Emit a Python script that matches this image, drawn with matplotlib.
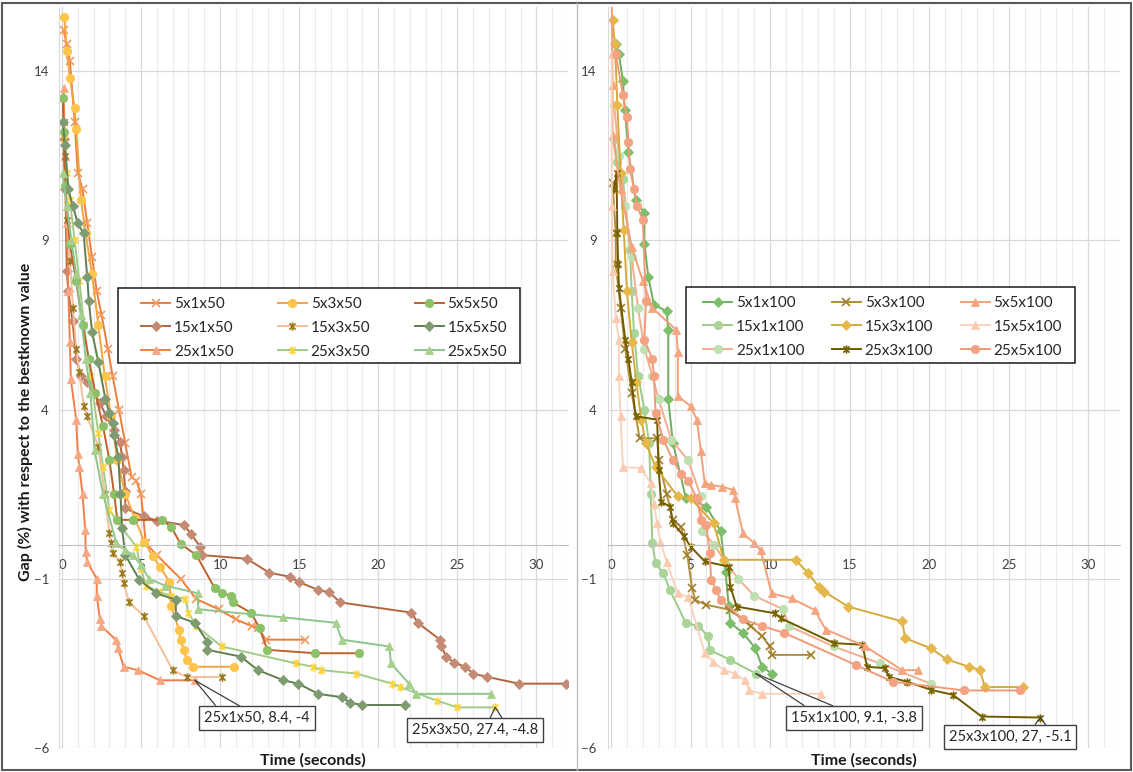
import matplotlib
matplotlib.use('Agg')
import matplotlib.pyplot as plt
from matplotlib.path import Path
from matplotlib.patches import Rectangle
from matplotlib.lines import Line2D
from matplotlib.ticker import MultipleLocator

plt.rcParams['font.family'] = ['Lato', 'DejaVu Sans']

# ---------------- data: left panel (50 jobs) ----------------
t_5x1x50 = [0.1, 0.3, 0.5, 0.8, 1.0, 1.3, 1.6, 1.9, 2.2, 2.5, 2.9, 3.2, 3.6, 4.0, 4.4, 4.7, 5.0, 5.3, 6.0, 7.5, 8.5, 9.9, 11.0, 12.0, 12.4, 12.9, 15.4]
g_5x1x50 = [15.2, 14.8, 14.3, 12.5, 11.0, 10.5, 9.5, 8.5, 7.5, 6.8, 5.8, 5.0, 4.0, 3.0, 2.0, 1.9, 1.5, 0.05, -0.3, -1.0, -1.6, -1.9, -2.2, -2.4, -2.45, -2.8, -2.8]

t_5x3x50 = [0.15, 0.3, 0.5, 0.8, 0.9, 1.2, 1.5, 1.9, 2.3, 2.7, 3.1, 3.5, 4.0, 4.6, 5.2, 5.74, 6.2, 6.8, 6.9, 7.4, 7.5, 7.7, 7.9, 8.3, 10.9]
g_5x3x50 = [15.6, 14.6, 13.8, 12.9, 12.3, 10.2, 9.2, 8.0, 6.5, 5.0, 3.8, 2.5, 1.5, 0.8, 0.1, -0.34, -0.64, -1.1, -1.8, -2.5, -2.8, -3.1, -3.4, -3.6, -3.6]

t_5x5x50 = [0.05, 0.1, 0.2, 0.5, 0.9, 1.3, 1.7, 2.1, 2.6, 3.0, 3.3, 3.5, 4.5, 6.3, 6.9, 7.5, 8.5, 9.66, 10.1, 10.7, 10.8, 11.95, 12.5, 12.98, 16.0, 18.8]
g_5x5x50 = [13.2, 12.2, 10.6, 8.9, 7.8, 6.5, 5.5, 4.5, 3.5, 2.5, 1.5, 0.74, 0.74, 0.74, 0.54, 0.03, -0.3, -1.28, -1.43, -1.5, -1.7, -2.0, -2.46, -3.1, -3.2, -3.2]

t_15x1x50 = [0.1, 0.22, 0.3, 0.4, 0.67, 0.9, 1.2, 1.6, 2.0, 2.4, 2.8, 3.3, 3.67, 3.8, 3.9, 4.0, 4.0, 5.17, 5.98, 7.7, 8.16, 8.73, 8.85, 11.7, 13.1, 14.4, 15.0, 16.2, 16.9, 17.6, 22.1, 22.5, 23.9, 24.0, 24.3, 24.8, 25.5, 26.0, 26.9, 28.9, 31.9]
g_15x1x50 = [12.0, 10.5, 8.1, 7.5, 6.6, 5.5, 5.0, 4.8, 4.5, 4.2, 3.8, 3.4, 3.05, 2.6, 2.2, 1.6, 1.08, 0.84, 0.72, 0.59, 0.33, -0.05, -0.3, -0.41, -0.82, -0.94, -1.1, -1.33, -1.4, -1.7, -2.0, -2.3, -2.8, -3.0, -3.3, -3.48, -3.6, -3.8, -3.9, -4.1, -4.1]

t_15x3x50 = [0.1, 0.2, 0.35, 0.5, 0.7, 0.9, 1.1, 1.37, 1.6, 2.3, 2.7, 3.0, 3.1, 3.2, 3.7, 3.8, 3.9, 4.25, 5.17, 7.0, 7.9, 10.1]
g_15x3x50 = [12.5, 11.5, 9.6, 8.4, 7.0, 5.8, 5.1, 4.1, 3.8, 2.9, 1.5, 0.34, 0.05, -0.25, -0.5, -0.84, -1.13, -1.7, -2.1, -3.7, -3.9, -3.9]

t_15x5x50 = [0.05, 0.2, 0.4, 0.7, 1.0, 1.37, 1.6, 1.7, 1.9, 2.3, 2.75, 3.0, 3.2, 3.3, 3.56, 3.7, 3.8, 4.0, 4.9, 5.97, 7.2, 7.2, 8.4, 9.2, 9.2, 11.3, 12.4, 14.0, 14.95, 16.2, 17.7, 18.2, 19.0, 21.7]
g_15x5x50 = [12.5, 11.8, 10.5, 10.0, 9.5, 9.2, 7.9, 7.2, 6.3, 5.4, 4.3, 3.9, 3.6, 3.25, 2.6, 1.5, 0.5, -0.3, -1.03, -1.43, -1.62, -2.1, -2.3, -2.86, -3.1, -3.3, -3.7, -4.0, -4.1, -4.4, -4.5, -4.66, -4.73, -4.73]

t_25x1x50 = [0.1, 0.2, 0.3, 0.4, 0.5, 0.56, 0.9, 1.0, 1.1, 1.3, 1.47, 1.5, 1.6, 2.2, 2.2, 2.4, 2.5, 3.4, 3.55, 3.9, 4.8, 6.2, 8.4]
g_25x1x50 = [13.5, 11.5, 9.5, 7.5, 6.0, 4.9, 3.7, 2.7, 2.3, 1.5, 0.44, -0.2, -0.5, -1.0, -1.5, -2.2, -2.4, -2.8, -3.05, -3.6, -3.7, -4.0, -4]

t_25x3x50 = [0.1, 0.3, 0.5, 0.8, 1.1, 1.4, 1.8, 2.3, 2.6, 3.0, 3.8, 4.7, 5.0, 5.3, 6.2, 6.9, 7.8, 8.0, 8.5, 10.1, 14.8, 15.9, 16.4, 18.6, 20.9, 21.4, 23.7, 25.0, 27.4]
g_25x3x50 = [12.0, 11.0, 10.2, 9.0, 7.8, 6.5, 5.0, 3.3, 2.3, 1.03, 0.5, -0.05, -0.7, -1.2, -1.4, -1.5, -1.6, -2.0, -2.4, -3.0, -3.5, -3.6, -3.7, -3.8, -4.1, -4.2, -4.6, -4.8, -4.8]

t_25x5x50 = [0.05, 0.3, 0.6, 0.9, 1.2, 1.5, 1.8, 2.06, 2.6, 3.44, 4.0, 4.5, 5.0, 5.5, 6.5, 8.6, 8.6, 14.0, 17.3, 17.7, 20.7, 20.8, 21.95, 22.4, 27.1]
g_25x5x50 = [11.0, 10.0, 9.0, 8.0, 6.8, 5.5, 4.5, 2.8, 1.5, 0.05, -0.15, -0.3, -0.6, -1.0, -1.2, -1.43, -1.9, -2.14, -2.3, -2.8, -3.0, -3.5, -4.1, -4.4, -4.4]

# ---------------- data: right panel (100 jobs) ----------------
t_5x1x100 = [0.3, 0.5, 0.75, 0.87, 1.1, 1.55, 2.1, 2.1, 2.35, 2.7, 3.5, 3.6, 3.6, 3.9, 4.7, 6.0, 6.9, 7.2, 7.4, 7.5, 8.3, 9.07, 9.5, 10.1]
g_5x1x100 = [14.8, 14.5, 13.7, 12.85, 11.6, 10.2, 9.8, 8.9, 7.9, 7.1, 6.9, 6.35, 4.3, 3.0, 1.4, 1.13, 0.4, -0.8, -1.8, -2.3, -2.6, -3.05, -3.6, -3.8]

t_15x1x100 = [0.2, 0.4, 0.75, 1.2, 1.3, 1.45, 1.7, 2.1, 2.4, 2.5, 2.6, 2.8, 3.3, 3.7, 4.7, 5.5, 6.1, 6.2, 7.5, 9.1]
g_15x1x100 = [12.0, 11.3, 10.8, 8.7, 7.5, 6.25, 5.0, 4.0, 3.0, 1.5, 0.05, -0.54, -0.84, -1.33, -2.3, -2.4, -2.7, -3.1, -3.4, -3.8]

t_25x1x100 = [0.2, 0.5, 0.9, 1.3, 1.7, 2.1, 2.6, 3.0, 3.8, 4.85, 5.65, 5.75, 6.5, 7.1, 8.0, 9.0, 10.8, 11.2, 14.0, 16.9, 20.1]
g_25x1x100 = [13.0, 11.5, 10.0, 8.5, 7.0, 5.8, 5.0, 4.3, 3.1, 2.5, 1.43, 0.4, 0.0, -0.44, -1.0, -1.5, -1.9, -2.4, -3.0, -3.5, -4.1]

t_5x3x100 = [0.1, 0.3, 0.3, 0.6, 0.9, 1.3, 1.8, 2.9, 3.0, 3.5, 3.9, 4.4, 4.8, 5.1, 5.3, 6.0, 7.5, 8.8, 9.5, 10.0, 10.1, 12.6]
g_5x3x100 = [10.7, 9.2, 8.3, 7.0, 5.8, 4.5, 3.15, 3.15, 2.5, 1.5, 0.74, 0.54, -0.3, -1.28, -1.63, -1.77, -1.92, -2.41, -2.7, -3.0, -3.25, -3.25]

t_15x3x100 = [0.1, 0.25, 0.4, 0.6, 0.8, 1.0, 1.3, 1.6, 1.9, 2.2, 2.8, 4.2, 5.0, 6.45, 7.1, 11.6, 12.4, 13.05, 13.4, 14.9, 18.3, 18.5, 20.1, 21.1, 22.5, 23.2, 23.5, 25.9]
g_15x3x100 = [15.5, 14.8, 13.0, 11.0, 9.3, 7.5, 6.0, 4.8, 3.7, 3.0, 2.3, 1.43, 1.38, 0.64, -0.44, -0.44, -0.84, -1.23, -1.38, -1.82, -2.26, -2.76, -3.05, -3.38, -3.6, -3.7, -4.2, -4.2]

t_25x3x100 = [0.2, 0.35, 0.4, 0.45, 0.5, 0.9, 1.1, 1.3, 1.55, 2.9, 3.0, 3.15, 3.7, 3.9, 4.6, 5.0, 5.9, 7.4, 7.5, 7.9, 10.3, 10.7, 14.0, 15.8, 16.1, 17.2, 17.5, 18.6, 20.1, 21.5, 23.3, 27]
g_25x3x100 = [10.5, 11.0, 9.2, 8.3, 7.6, 6.05, 5.5, 4.8, 3.8, 3.7, 2.2, 1.28, 1.13, 0.64, 0.25, -0.05, -0.49, -0.64, -1.23, -1.82, -2.02, -2.17, -2.9, -2.95, -3.6, -3.64, -3.9, -4.04, -4.28, -4.43, -5.07, -5.1]

t_5x5x100 = [0.05, 0.1, 0.1, 0.6, 1.3, 2.0, 2.6, 4.1, 4.2, 4.2, 5.0, 5.4, 5.65, 5.9, 6.3, 7.0, 7.7, 7.8, 8.3, 9.0, 9.4, 10.1, 11.35, 12.8, 13.5, 16.0, 18.3, 19.3]
g_5x5x100 = [16.3, 13.6, 12.1, 10.5, 8.8, 7.8, 7.0, 6.35, 5.7, 4.4, 4.1, 3.7, 2.76, 1.82, 1.77, 1.72, 1.62, 1.38, 0.34, 0.05, -0.15, -1.43, -1.58, -1.92, -2.5, -3.0, -3.7, -3.7]

t_15x5x100 = [0.05, 0.05, 0.1, 0.3, 0.5, 0.5, 0.6, 0.75, 1.9, 2.5, 2.7, 2.9, 3.1, 3.5, 4.2, 4.85, 5.9, 6.4, 7.1, 7.8, 8.4, 8.7, 9.5, 13.2]
g_15x5x100 = [14.5, 10.0, 8.1, 6.7, 6.05, 5.0, 3.8, 2.3, 2.27, 1.82, 1.2, 0.64, 0.1, -0.5, -1.43, -1.53, -3.2, -3.45, -3.7, -3.8, -4.0, -4.3, -4.4, -4.4]

t_25x5x100 = [0.3, 0.75, 1.0, 1.1, 1.2, 1.45, 1.65, 2.0, 2.2, 2.1, 2.6, 2.7, 2.8, 3.3, 3.9, 4.4, 4.85, 5.4, 5.65, 6.0, 6.2, 6.3, 6.6, 6.9, 8.3, 9.5, 10.9, 15.4, 17.7, 22.2, 25.7]
g_25x5x100 = [14.5, 13.3, 12.65, 11.9, 11.1, 10.5, 10.0, 9.6, 7.2, 6.05, 5.5, 5.0, 3.9, 3.1, 2.5, 2.1, 1.9, 1.38, 0.74, 0.6, -0.25, -1.03, -1.33, -1.62, -2.2, -2.4, -2.6, -3.55, -4.04, -4.3, -4.3]

y_ticks = [-6, -1, 4, 9, 14]
x_ticks = [0, 5, 10, 15, 20, 25, 30]
y_label = "Gap (%) with respect to the bestknown value"
x_label = "Time (seconds)"

# ---------------- styles ----------------
star_path = Path([(0, -1), (0, 1), (-0.75, -0.75), (0.75, 0.75), (-0.75, 0.75), (0.75, -0.75)],
                 [Path.MOVETO, Path.LINETO, Path.MOVETO, Path.LINETO, Path.MOVETO, Path.LINETO])

# (label, t, g, line colour, marker, marker colour)
left_series = [
    ("5x1x50", t_5x1x50, g_5x1x50, '#EE7D3A', 'x', '#F39A5E'),
    ("15x1x50", t_15x1x50, g_15x1x50, '#B0653F', 'D', '#C48A74'),
    ("25x1x50", t_25x1x50, g_25x1x50, '#F0804A', '^', '#F6A884'),
    ("5x3x50", t_5x3x50, g_5x3x50, '#F5A340', 'o', '#FFC54A'),
    ("15x3x50", t_15x3x50, g_15x3x50, '#F6BE98', star_path, '#9C7A1E'),
    ("25x3x50", t_25x3x50, g_25x3x50, '#A3CB88', star_path, '#FFD43B'),
    ("5x5x50", t_5x5x50, g_5x5x50, '#C0612B', 'o', '#8CC168'),
    ("15x5x50", t_15x5x50, g_15x5x50, '#5F7F50', 'D', '#7E9B72'),
    ("25x5x50", t_25x5x50, g_25x5x50, '#8CC68A', '^', '#A8D08D'),
]
right_series = [
    ("5x1x100", t_5x1x100, g_5x1x100, '#6FAE5E', 'D', '#7DBE6B'),
    ("15x1x100", t_15x1x100, g_15x1x100, '#9BCB88', 'o', '#A9D49A'),
    ("25x1x100", t_25x1x100, g_25x1x100, '#F2AE8E', 'o', '#BFE0B0'),
    ("5x3x100", t_5x3x100, g_5x3x100, '#B08F3A', 'x', '#A07F2A'),
    ("15x3x100", t_15x3x100, g_15x3x100, '#D4AA3A', 'D', '#E6B84A'),
    ("25x3x100", t_25x3x100, g_25x3x100, '#6E5B00', star_path, '#7A6500'),
    ("5x5x100", t_5x5x100, g_5x5x100, '#F2A07A', '^', '#F4A57F'),
    ("15x5x100", t_15x5x100, g_15x5x100, '#FAD3BE', '^', '#F9CBB0'),
    ("25x5x100", t_25x5x100, g_25x5x100, '#F09A78', 'o', '#F3A382'),
]

W, H = 1133, 772
fig = plt.figure(figsize=(W / 100, H / 100), dpi=100)


def px_axes(left, top, right, bottom):
    return fig.add_axes([left / W, 1 - bottom / H, (right - left) / W, (bottom - top) / H])


def style_axes(ax, ypad):
    ax.set_xlim(-0.2, 32)
    ax.set_ylim(-6, 15.9)
    ax.set_yticks(y_ticks)
    ax.set_xticks(x_ticks)
    ax.xaxis.set_minor_locator(MultipleLocator(1))
    ax.grid(which='major', axis='both', color='#D9D9D9', lw=0.9)
    ax.grid(which='minor', axis='x', color='#EBEBEB', lw=0.8)
    ax.set_axisbelow(True)
    for s in ('top', 'right'):
        ax.spines[s].set_visible(False)
    ax.spines['bottom'].set_position(('data', 0))
    ax.spines['bottom'].set_color('#BFBFBF')
    ax.spines['left'].set_color('#D9D9D9')
    ax.tick_params(axis='both', which='both', length=0, labelsize=9.5, labelcolor='#404040')
    ax.tick_params(axis='x', pad=10)
    ax.tick_params(axis='y', pad=ypad)
    ax.patch.set_alpha(0)


def draw_series(ax, series):
    handles = []
    for name, t, g, lc, mk, mc in series:
        is_line_marker = (mk == 'x') or isinstance(mk, Path)
        ln, = ax.plot(t, g, color=lc, lw=1.4, marker=mk, ms=6 if mk != 'D' else 5,
                      markerfacecolor='none' if is_line_marker else mc,
                      markeredgecolor=mc, mew=1.2 if is_line_marker else 0.6,
                      label=name)
        handles.append(ln)
    return handles


axL = px_axes(58.8, 6.7, 568, 748)
axR = px_axes(607.8, 6.7, 1120, 748)
style_axes(axL, 7)
style_axes(axR, 8)

hL = draw_series(axL, left_series)
hR = draw_series(axR, right_series)


# legends: frame drawn separately to mimic Excel's box
def legend_box(handles, box, anchor, colsp):
    x0, y0, x1, y1 = box
    fig.add_artist(Rectangle((x0 / W, 1 - y1 / H), (x1 - x0) / W, (y1 - y0) / H,
                             transform=fig.transFigure, facecolor='white',
                             edgecolor='#1A1A1A', lw=1.1, zorder=4))
    fig.legend(handles=handles, ncol=3, loc='upper left',
               bbox_to_anchor=(anchor[0] / W, 1 - anchor[1] / H),
               bbox_transform=fig.transFigure, frameon=False, fontsize=11,
               borderpad=0, borderaxespad=0, handlelength=1.9, handletextpad=0.25,
               columnspacing=colsp, labelspacing=0.64, numpoints=1,
               labelcolor='#262626').set_zorder(5)


legend_box(hL, (118, 288, 520, 363), (141, 297), 2.9)
legend_box(hR, (686, 287, 1075, 363), (703, 296), 1.8)

# axis labels
fig.text(25 / W, 1 - 422 / H, y_label, rotation=90, ha='center', va='center',
         fontsize=11.5, fontweight='bold', color='#1A1A1A')
fig.text(313 / W, 1 - 760 / H, x_label, ha='center', va='center',
         fontsize=11.5, fontweight='bold', color='#1A1A1A')
fig.text(864 / W, 1 - 760 / H, x_label, ha='center', va='center',
         fontsize=11.5, fontweight='bold', color='#1A1A1A')


# callouts on selected series end points
def callout(ax, name, t, g, center, rel):
    txt = f"{name}, {t[-1]:g}, {g[-1]:g}"
    kw = dict(xy=(t[-1], g[-1]), xycoords='data', xytext=(center[0], H - center[1]),
              textcoords='figure pixels', ha='center', va='center', fontsize=10.5,
              annotation_clip=False)
    ax.annotate(txt, color='#262626',
                bbox=dict(boxstyle='square,pad=0.35', fc='white', ec='#404040', lw=1),
                arrowprops=dict(arrowstyle='-', color='#404040', lw=0.9, relpos=(rel[0], 1),
                                shrinkA=0, shrinkB=0), zorder=6, **kw)
    ax.annotate(txt, color='none',
                bbox=dict(boxstyle='square,pad=0.35', fc='none', ec='none'),
                arrowprops=dict(arrowstyle='-', color='#404040', lw=0.9, relpos=(rel[1], 1),
                                shrinkA=0, shrinkB=0), zorder=6, **kw)


callout(axL, "25x1x50", t_25x1x50, g_25x1x50, (257, 718), (0.15, 0.42))
callout(axL, "25x3x50", t_25x3x50, g_25x3x50, (475, 730), (0.6, 0.74))
callout(axR, "15x1x100", t_15x1x100, g_15x1x100, (854, 718), (0.17, 0.43))
callout(axR, "25x3x100", t_25x3x100, g_25x3x100, (1010, 737), (0.67, 0.82))

# chart frames
fig.add_artist(Rectangle((2 / W, 1 - 770 / H), (1131 - 2) / W, (770 - 3) / H,
                         transform=fig.transFigure, fill=False, edgecolor='#595959', lw=1.5))
fig.add_artist(Line2D([577 / W, 577 / W], [1 - 770 / H, 1 - 3 / H],
                      transform=fig.transFigure, color='#BFBFBF', lw=1))

fig.savefig('out.png', dpi=100, facecolor='white')
